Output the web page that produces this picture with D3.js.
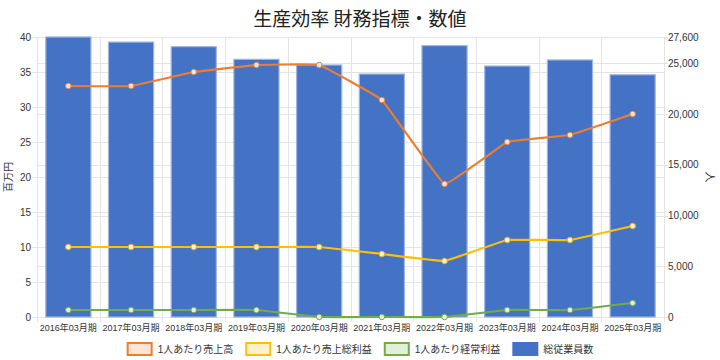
<!DOCTYPE html>
<html><head><meta charset="utf-8">
<script src="https://cdn.jsdelivr.net/npm/d3@7"></script>
<style>
html,body{margin:0;padding:0;background:#fff;}
svg{display:block;}
</style></head>
<body>
<svg id="c" width="720" height="360"></svg>
<script>
const categories = ["2016年03月期","2017年03月期","2018年03月期","2019年03月期","2020年03月期","2021年03月期","2022年03月期","2023年03月期","2024年03月期","2025年03月期"];
const salesPerPerson = [33,33,35,36,36,31,19,25,26,29];
const grossProfitPerPerson = [10,10,10,10,10,9,8,11,11,13];
const ordinaryProfitPerPerson = [1,1,1,1,0,0,0,1,1,2];
const employees = [27600,27100,26650,25400,24840,23950,26750,24740,25340,23880];
const leftTicks = [0,5,10,15,20,25,30,35,40];
const rightTicks = [0,5000,10000,15000,20000,25000,27600];
const title = "生産効率 財務指標・数値";
const leftTitle = "百万円";
const rightTitle = "人";
const legendLabels = ["1人あたり売上高","1人あたり売上総利益","1人あたり経常利益","総従業員数"];

const FONT = "'Liberation Sans','Noto Sans CJK JP',sans-serif";
const svg = d3.select("#c");
const L = 37, R = 664, T = 37, B = 317;

const x = d3.scaleBand().domain(categories).range([L, R]).paddingInner(0.28).paddingOuter(0.14);
const yL = d3.scaleLinear().domain([0, 40]).range([B, T]);
const yR = d3.scaleLinear().domain([0, 27600]).range([B, T]);
const step = x.step();

// grid
const grid = svg.append("g").attr("stroke", "#e4e4e4").attr("stroke-width", 1);
leftTicks.forEach(v => grid.append("line").attr("x1", L - 5).attr("x2", R).attr("y1", Math.round(yL(v)) + 0.5).attr("y2", Math.round(yL(v)) + 0.5));
rightTicks.forEach(v => grid.append("line").attr("x1", L).attr("x2", R + 4).attr("y1", Math.round(yR(v)) + 0.5).attr("y2", Math.round(yR(v)) + 0.5));
d3.range(categories.length + 1).forEach(i => {
  const xx = Math.round(L + i * step) + 0.5;
  grid.append("line").attr("x1", xx).attr("x2", xx).attr("y1", T).attr("y2", B + 5);
});

// bars
svg.append("g").selectAll("rect").data(employees).join("rect")
  .attr("x", (d, i) => x(categories[i]))
  .attr("y", d => yR(d))
  .attr("width", x.bandwidth())
  .attr("height", d => B - yR(d))
  .attr("fill", "#4472C4")
  .attr("stroke", "#9fb5e2")
  .attr("stroke-width", 1.2);

// lines
const series = [
  {vals: salesPerPerson, color: "#ED7D31", fill: "#fbe3d3", mk: "#e0824a"},
  {vals: grossProfitPerPerson, color: "#FFC000", fill: "#fff2cc", mk: "#d9b23a"},
  {vals: ordinaryProfitPerPerson, color: "#70AD47", fill: "#e2efd9", mk: "#7aa85a"}
];
const cx = i => x(categories[i]) + x.bandwidth() / 2;
series.forEach(s => {
  const line = d3.line().x((d, i) => cx(i)).y(d => yL(d)).curve(d3.curveCardinal.tension(0.8));
  svg.append("path").datum(s.vals).attr("d", line).attr("fill", "none")
    .attr("stroke", s.color).attr("stroke-width", 2.2);
  svg.append("g").selectAll("circle").data(s.vals).join("circle")
    .attr("cx", (d, i) => cx(i)).attr("cy", d => yL(d)).attr("r", 2.8)
    .attr("fill", s.fill).attr("stroke", s.mk).attr("stroke-width", 1);
});

// axes labels
const tl = svg.append("g").attr("font-family", FONT).attr("font-size", 10).attr("fill", "#333");
leftTicks.forEach(v => tl.append("text").attr("x", 31).attr("y", yL(v) + 3.5).attr("text-anchor", "end").text(v));
rightTicks.forEach(v => tl.append("text").attr("x", 668).attr("y", yR(v) + 3.5).attr("text-anchor", "start").text(d3.format(",")(v)));
const xl = svg.append("g").attr("font-family", FONT).attr("font-size", 9).attr("fill", "#333");
categories.forEach((c, i) => xl.append("text").attr("x", cx(i)).attr("y", 331).attr("text-anchor", "middle").text(c));

svg.append("text").attr("transform", "translate(12,177) rotate(-90)").attr("text-anchor", "middle")
  .attr("font-family", FONT).attr("font-size", 10).attr("fill", "#333").text(leftTitle);
svg.append("text").attr("transform", "translate(706,177) rotate(90)").attr("text-anchor", "middle")
  .attr("font-family", FONT).attr("font-size", 11).attr("fill", "#333").text(rightTitle);

// title
svg.append("text").attr("x", 360).attr("y", 26).attr("text-anchor", "middle")
  .attr("font-family", "'Noto Sans CJK JP',sans-serif").attr("font-size", 19).attr("fill", "#222").text(title);

// legend
const lg = svg.append("g").attr("font-family", FONT).attr("font-size", 10).attr("fill", "#333");
const legendStyles = [
  {stroke: "#ED7D31", fill: "#fbe5d6"},
  {stroke: "#FFC000", fill: "#fff2cc"},
  {stroke: "#70AD47", fill: "#e2f0d9"},
  {stroke: "#4472C4", fill: "#4472C4"}
];
const items = [];
legendLabels.forEach((t, i) => {
  const g = lg.append("g");
  g.append("rect").attr("x", 1).attr("y", -6).attr("width", 24).attr("height", 12)
    .attr("fill", legendStyles[i].fill).attr("stroke", legendStyles[i].stroke).attr("stroke-width", 2);
  const tx = g.append("text").attr("x", 31).attr("y", 3.5).text(t);
  items.push({g, w: 31 + tx.node().getComputedTextLength()});
});
const gap = 12;
const total = d3.sum(items, d => d.w) + gap * (items.length - 1);
let cur = 360 - total / 2;
items.forEach(it => { it.g.attr("transform", `translate(${cur},349)`); cur += it.w + gap; });
</script>
</body></html>
